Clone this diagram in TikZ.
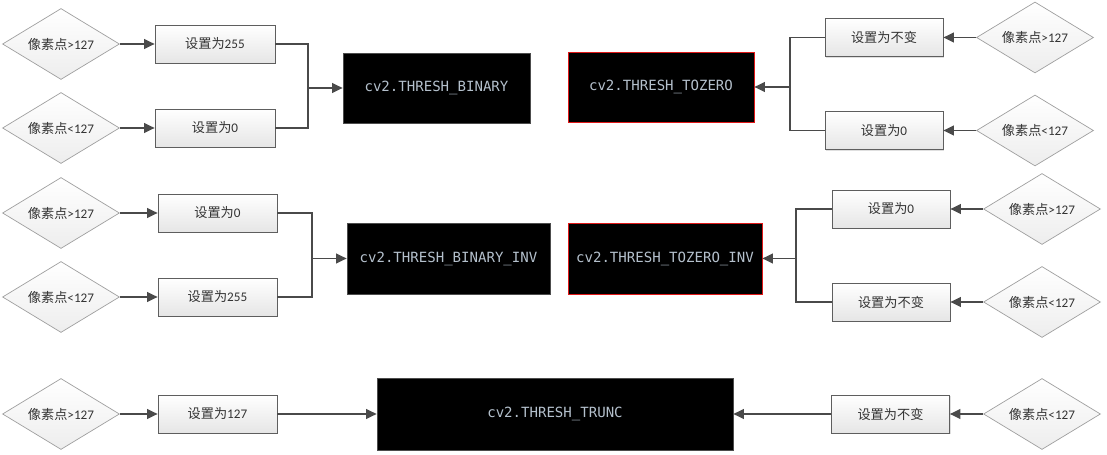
\documentclass[tikz,border=0pt]{standalone}
\usepackage{fontspec}
\setmainfont{Carlito}
\newfontfamily\cjk{Noto Sans CJK SC}
\newfontfamily\codefont{DejaVu Sans Mono}
\usepackage{tikz}
\usetikzlibrary{positioning,arrows.meta,calc,shapes.geometric,shadows}

\definecolor{linegray}{HTML}{4A4A4A}
\definecolor{boxline}{HTML}{5E5E5E}
\definecolor{codetext}{HTML}{B4C0CC}
\definecolor{redline}{HTML}{E01818}

\newcommand{\pxgt}{{\cjk 像素点}>127}
\newcommand{\pxlt}{{\cjk 像素点}<127}
\newcommand{\setto}[1]{{\cjk 设置为}#1}
\newcommand{\setkeep}{{\cjk 设置为不变}}

\begin{document}
\begin{tikzpicture}[x=0.02cm, y=-0.02cm,
    >={Triangle[length=6pt,width=5.5pt]},
    cond/.style={diamond, draw=gray!75, top color=white, bottom color=gray!14, aspect=1.65, inner sep=0pt,
        minimum width=2.34cm, minimum height=1.42cm, text=black!80, font=\fontsize{7.5}{9}\selectfont},
    setbox/.style={draw=boxline, top color=white, bottom color=gray!20, minimum width=2.38cm, minimum height=0.76cm,
        inner sep=0pt, text=black!80, font=\fontsize{7.5}{9}\selectfont,
        drop shadow={shadow xshift=0.8pt, shadow yshift=-0.8pt, opacity=0.25}},
    flag/.style={draw=gray!60!black, fill=black, text=codetext, minimum height=1.4cm, inner sep=0pt,
        font=\codefont\fontsize{8}{10}\selectfont,
        drop shadow={shadow xshift=0.8pt, shadow yshift=-0.8pt, opacity=0.25}},
    redflag/.style={flag, draw=redline},
    wire/.style={draw=linegray, line width=1pt}]
    \useasboundingbox (0,0) rectangle (1107,455);

    %coordinates
    \coordinate (A0) at (61,44);
    \coordinate (A1) at (61,128);
    \coordinate (jA) at (308,88);
    \coordinate (B0) at (1035,37.5);
    \coordinate (B1) at (1035,130.5);
    \coordinate (jB) at (790,87);

    \coordinate (C0) at (61,213);
    \coordinate (C1) at (61,297);
    \coordinate (jC) at (312,258.5);
    \coordinate (D0) at (1042,209);
    \coordinate (D1) at (1042,302);
    \coordinate (jD) at (796,258.5);

    \coordinate (E0) at (61,414);
    \coordinate (E1) at (1042,414);

    %nodes
    \node[cond] (dA0) at (A0) {\pxgt};
    \node[cond] (dA1) at (A1) {\pxlt};
    \node[setbox, minimum width=2.4cm] (sA0) at ($(A0)+(154,0)$) {\setto{255}};
    \node[setbox, minimum width=2.4cm] (sA1) at ($(A1)+(154,0)$) {\setto{0}};
    \node[flag, minimum width=3.74cm] (BIN) at (436.5,88) {cv2.THRESH\_BINARY};

    \node[cond] (dB0) at (B0) {\pxgt};
    \node[cond] (dB1) at (B1) {\pxlt};
    \node[setbox, minimum width=2.36cm] (sB0) at ($(B0)+(-151,0)$) {\setkeep};
    \node[setbox, minimum width=2.36cm] (sB1) at ($(B1)+(-151,0)$) {\setto{0}};
    \node[redflag, minimum width=3.72cm] (TOZ) at (661,87) {cv2.THRESH\_TOZERO};

    \node[cond] (dC0) at (C0) {\pxgt};
    \node[cond] (dC1) at (C1) {\pxlt};
    \node[setbox] (sC0) at ($(C0)+(156.5,0)$) {\setto{0}};
    \node[setbox] (sC1) at ($(C1)+(156.5,0)$) {\setto{255}};
    \node[flag, minimum width=4.06cm, minimum height=1.42cm] (BINV) at (448.5,258.5) {cv2.THRESH\_BINARY\_INV};

    \node[cond] (dD0) at (D0) {\pxgt};
    \node[cond] (dD1) at (D1) {\pxlt};
    \node[setbox, minimum width=2.36cm] (sD0) at ($(D0)+(-151,0)$) {\setto{0}};
    \node[setbox, minimum width=2.36cm] (sD1) at ($(D1)+(-151,0)$) {\setkeep};
    \node[redflag, minimum width=3.88cm, minimum height=1.42cm] (TOZV) at (665,258.5) {cv2.THRESH\_TOZERO\_INV};

    \node[cond] (dE0) at (E0) {\pxgt};
    \node[setbox] (sE0) at ($(E0)+(156.5,0)$) {\setto{127}};
    \node[flag, minimum width=7.12cm, minimum height=1.44cm] (TRC) at (555,414) {cv2.THRESH\_TRUNC};
    \node[setbox, minimum width=2.36cm] (sE1) at ($(E1)+(-151.5,0)$) {\setkeep};
    \node[cond] (dE1) at (E1) {\pxlt};

    %edges
    \draw[wire,->] (dA0.east) -- (sA0.west);
    \draw[wire,->] (dA1.east) -- (sA1.west);
    \draw[wire] (sA0.east) -| (jA);
    \draw[wire] (sA1.east) -| (jA);
    \draw[wire,->] (jA) -- (BIN.west);

    \draw[wire,->] (dB0.west) -- (sB0.east);
    \draw[wire,->] (dB1.west) -- (sB1.east);
    \draw[wire] (sB0.west) -| (jB);
    \draw[wire] (sB1.west) -| (jB);
    \draw[wire,->] (jB) -- (TOZ.east);

    \draw[wire,->] (dC0.east) -- (sC0.west);
    \draw[wire,->] (dC1.east) -- (sC1.west);
    \draw[wire] (sC0.east) -| (jC);
    \draw[wire] (sC1.east) -| (jC);
    \draw[wire,->] (jC) -- (BINV.west);

    \draw[wire,->] (dD0.west) -- (sD0.east);
    \draw[wire,->] (dD1.west) -- (sD1.east);
    \draw[wire] (sD0.west) -| (jD);
    \draw[wire] (sD1.west) -| (jD);
    \draw[wire,->] (jD) -- (TOZV.east);

    \draw[wire,->] (dE0.east) -- (sE0.west);
    \draw[wire,->] (sE0.east) -- (TRC.west);
    \draw[wire,->] (dE1.west) -- (sE1.east);
    \draw[wire,->] (sE1.west) -- (TRC.east);
\end{tikzpicture}
\end{document}
